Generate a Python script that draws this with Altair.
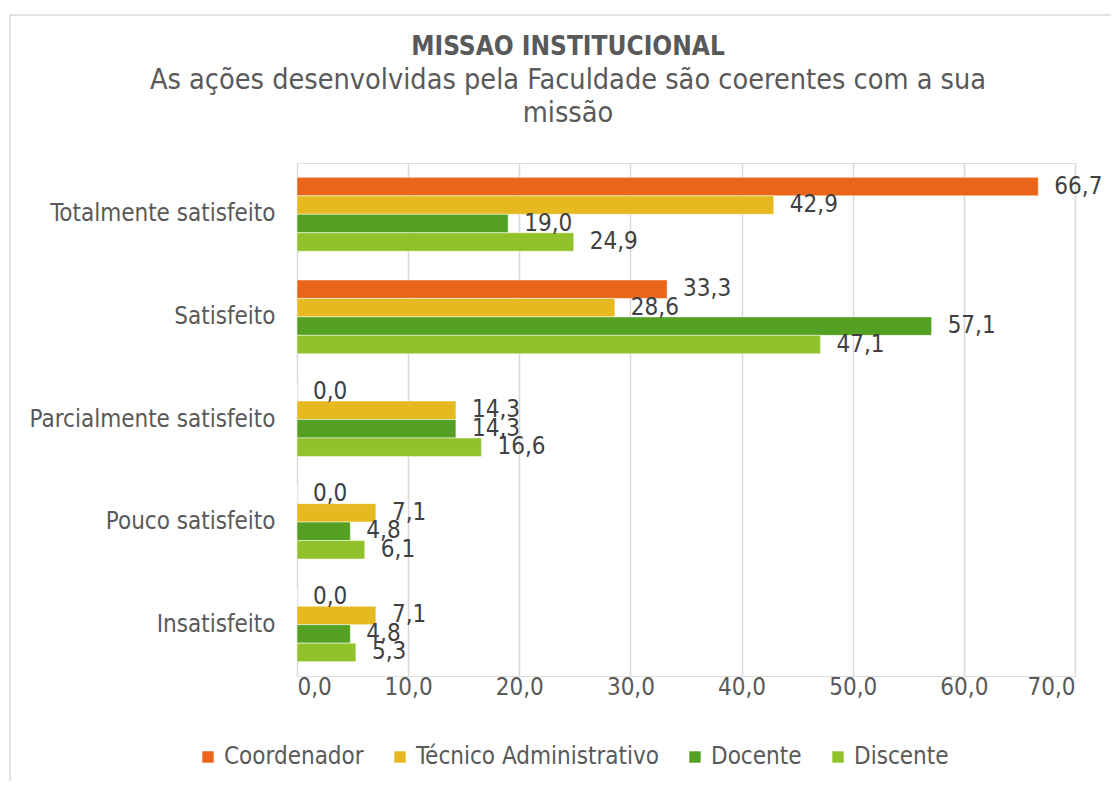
import altair as alt
import pandas as pd

categories = ["Totalmente satisfeito", "Satisfeito", "Parcialmente satisfeito",
              "Pouco satisfeito", "Insatisfeito"]
series = ["Coordenador", "Técnico Administrativo", "Docente", "Discente"]
coordenador = [66.7, 33.3, 0.0, 0.0, 0.0]
tecnico = [42.9, 28.6, 14.3, 7.1, 7.1]
docente = [19.0, 57.1, 14.3, 4.8, 4.8]
discente = [24.9, 47.1, 16.6, 6.1, 5.3]
colors = ["#E8651A", "#E6B921", "#53A023", "#92C22A"]
x_ticks = [0, 10, 20, 30, 40, 50, 60, 70]

rows = []
for s, vals in zip(series, [coordenador, tecnico, docente, discente]):
    for c, v in zip(categories, vals):
        rows.append({"categoria": c, "grupo": s, "valor": v})
df = pd.DataFrame(rows)

FONT = "DejaVu Sans Condensed"

y_enc = alt.Y("categoria:N", sort=categories,
              scale=alt.Scale(paddingInner=0.28, paddingOuter=0.14),
              axis=alt.Axis(title=None, ticks=False, domain=False, grid=False,
                            labelFontSize=24, labelColor="#595959", labelLimit=400,
                            labelPadding=22, labelFont=FONT))
yoff = alt.YOffset("grupo:N", sort=series,
                   scale=alt.Scale(paddingInner=0, paddingOuter=0))
x_enc = alt.X("valor:Q", scale=alt.Scale(domain=[0, 70], nice=False),
              axis=alt.Axis(values=x_ticks, title=None, ticks=False, domain=False,
                            labelExpr="replace(format(datum.value,'.1f'),'.',',')",
                            gridColor="#d9d9d9", gridWidth=1.5,
                            labelFontSize=24, labelColor="#595959",
                            labelPadding=-1, labelFont=FONT))

frame = alt.Chart(alt.Data(values=[{}])).mark_rect(
    fill=None, stroke="#d9d9d9", strokeWidth=1.5
).encode(x=alt.value(-287), x2=alt.value(830), y=alt.value(-148), y2=alt.value(640))

bars = alt.Chart(df).mark_bar(stroke="white", strokeWidth=1, strokeOpacity=0.5).encode(
    x=x_enc, y=y_enc, yOffset=yoff,
    color=alt.Color("grupo:N", sort=series,
                    scale=alt.Scale(domain=series, range=colors),
                    legend=alt.Legend(orient="none", legendX=-101, legendY=582,
                                      direction="horizontal", columns=4, title=None,
                                      symbolType="square", symbolSize=130,
                                      symbolStrokeWidth=0, labelFontSize=24,
                                      labelColor="#595959", labelFont=FONT,
                                      columnPadding=24, labelLimit=400))
)

labels = alt.Chart(df).transform_calculate(
    label="replace(format(datum.valor,'.1f'),'.',',')"
).mark_text(align="left", baseline="middle", dx=16, fontSize=24,
            color="#404040", font=FONT).encode(
    x=alt.X("valor:Q"), y=alt.Y("categoria:N", sort=categories),
    yOffset=alt.YOffset("grupo:N", sort=series),
    text="label:N"
)

chart = alt.layer(frame, bars, labels).properties(
    width=778, height=513,
    padding={"left": 289, "top": 155, "right": 36, "bottom": 105},
    autosize=alt.AutoSizeParams(type="none"),
    title=alt.Title("MISSAO INSTITUCIONAL",
                    subtitle=["As ações desenvolvidas pela Faculdade são coerentes com a sua", "missão"],
                    font=FONT, fontSize=26, fontWeight="bold", color="#595959",
                    subtitleFont=FONT, subtitleFontSize=28.6, subtitleColor="#595959",
                    subtitleLineHeight=33, subtitlePadding=6,
                    anchor="middle", dx=-118, offset=-113)
).configure_view(stroke=None).configure(font=FONT)

chart.save("out.html", embed_options={"renderer": "svg", "actions": False})
